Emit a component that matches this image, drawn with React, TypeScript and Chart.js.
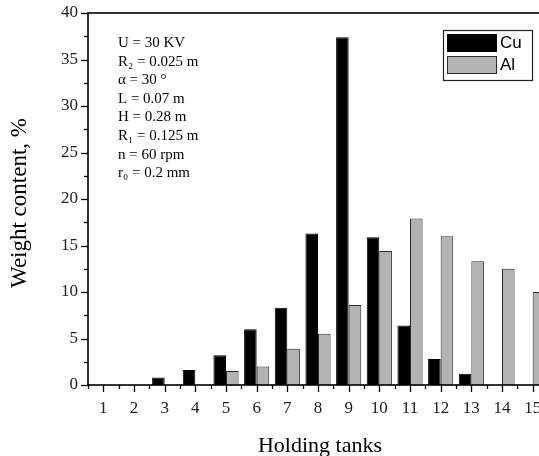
import React, { useEffect, useRef } from 'react';
import { Chart, registerables } from 'chart.js';

Chart.register(...registerables);

const tanks = ['1', '2', '3', '4', '5', '6', '7', '8', '9', '10', '11', '12', '13', '14', '15'];
const cuValues = [0, 0, 0.8, 1.6, 3.2, 6.0, 8.3, 16.3, 37.4, 15.9, 6.4, 2.8, 1.2, 0, 0];
const alValues = [0, 0, 0, 0, 1.5, 2.0, 3.9, 5.5, 8.6, 14.4, 17.9, 16.0, 13.3, 12.5, 10.0];
const yMin = 0;
const yMax = 40;
const yMajorStep = 5;
const yMinorStep = 2.5;
const annotationLines = [
  'U = 30 KV',
  'R\u2082 = 0.025 m',
  '\u03B1 = 30 \u00B0',
  'L = 0.07 m',
  'H = 0.28 m',
  'R\u2081 = 0.125 m',
  'n = 60 rpm',
  'r\u2080 = 0.2 mm',
];
const xTitle = 'Holding tanks';
const yTitle = 'Weight content, %';
const seriesNames = ['Cu', 'Al'];

const SERIF = '"Liberation Serif", "Times New Roman", serif';
const SANS = '"Liberation Sans", Arial, sans-serif';

const decorPlugin = {
  id: 'decor',
  afterDraw(chart: any) {
    const { ctx, chartArea: a, scales } = chart;
    const x = scales.x;
    const y = scales.y;
    ctx.save();
    ctx.strokeStyle = '#000';
    ctx.lineWidth = 1.6;
    ctx.strokeRect(a.left, a.top, a.right - a.left, a.bottom - a.top);

    ctx.lineWidth = 1.3;
    // y ticks
    for (let v = yMin; v <= yMax + 1e-6; v += yMinorStep) {
      const py = Math.round(y.getPixelForValue(v)) + 0.5;
      const len = Math.abs(v % yMajorStep) < 1e-6 ? 7 : 4;
      ctx.beginPath();
      ctx.moveTo(a.left - len, py);
      ctx.lineTo(a.left, py);
      ctx.stroke();
    }
    // x ticks
    for (let i = 0; i < tanks.length; i++) {
      const px = Math.round(x.getPixelForValue(i)) + 0.5;
      ctx.beginPath();
      ctx.moveTo(px, a.bottom);
      ctx.lineTo(px, a.bottom + 7);
      ctx.stroke();
    }
    for (let i = 0; i <= tanks.length; i++) {
      const px = Math.round(x.getPixelForValue(i - 0.5)) + 0.5;
      ctx.beginPath();
      ctx.moveTo(px, a.bottom);
      ctx.lineTo(px, a.bottom + 4);
      ctx.stroke();
    }

    // annotation
    ctx.fillStyle = '#000';
    ctx.font = `15px ${SERIF}`;
    ctx.textAlign = 'left';
    ctx.textBaseline = 'middle';
    annotationLines.forEach((t, i) => {
      ctx.fillText(t, a.left + 30, a.top + 30 + i * 18.6);
    });

    // legend
    const bx = a.right - 105;
    const by = a.top + 17;
    const bw = 89;
    const bh = 50;
    ctx.fillStyle = '#fff';
    ctx.fillRect(bx, by, bw, bh);
    ctx.strokeStyle = '#222';
    ctx.lineWidth = 1.2;
    ctx.strokeRect(bx + 0.5, by + 0.5, bw, bh);
    const dsets = chart.data.datasets;
    dsets.forEach((ds: any, i: number) => {
      const sy = by + 4 + i * 22;
      ctx.fillStyle = ds.backgroundColor;
      ctx.fillRect(bx + 4, sy, 50, 18);
      ctx.strokeStyle = ds.borderColor;
      ctx.lineWidth = 1;
      ctx.strokeRect(bx + 4.5, sy + 0.5, 49, 17);
      ctx.fillStyle = '#000';
      ctx.font = `17px ${SANS}`;
      ctx.textAlign = 'left';
      ctx.textBaseline = 'middle';
      ctx.fillText(ds.label, bx + 57, sy + 9);
    });

    // titles
    ctx.fillStyle = '#000';
    ctx.font = `22px ${SERIF}`;
    ctx.textAlign = 'center';
    ctx.textBaseline = 'alphabetic';
    ctx.fillText(xTitle, (a.left + a.right) / 2 + 2, a.bottom + 67);
    ctx.save();
    ctx.font = `23px ${SERIF}`;
    ctx.textBaseline = 'middle';
    ctx.translate(a.left - 68, (a.top + a.bottom) / 2 + 4);
    ctx.rotate(-Math.PI / 2);
    ctx.fillText(yTitle, 0, 0);
    ctx.restore();
    ctx.restore();
  },
};

export default function App() {
  const ref = useRef<HTMLCanvasElement | null>(null);
  useEffect(() => {
    if (!ref.current) return;
    const chart = new Chart(ref.current, {
      type: 'bar',
      data: {
        labels: tanks,
        datasets: [
          {
            label: seriesNames[0],
            data: cuValues,
            backgroundColor: '#000000',
            borderColor: '#000000',
            borderWidth: 1,
            barPercentage: 1,
            categoryPercentage: 0.82,
          },
          {
            label: seriesNames[1],
            data: alValues,
            backgroundColor: '#b3b3b3',
            borderColor: '#2a2a2a',
            borderWidth: 1,
            barPercentage: 1,
            categoryPercentage: 0.82,
          },
        ],
      },
      options: {
        responsive: false,
        animation: false,
        devicePixelRatio: 1,
        layout: { padding: { top: 13, right: 22, left: 0, bottom: 0 } },
        plugins: {
          legend: { display: false },
          tooltip: { enabled: false },
          title: { display: false },
        },
        scales: {
          x: {
            type: 'category',
            offset: true,
            grid: { display: false, drawTicks: false },
            border: { display: false },
            ticks: {
              color: '#222',
              font: { family: SERIF, size: 17 },
              padding: 13,
              maxRotation: 0,
              autoSkip: false,
            },
            afterFit: (s: any) => {
              s.height = 71;
              s.paddingLeft = 0;
              s.paddingRight = 0;
            },
          },
          y: {
            min: yMin,
            max: yMax,
            grid: { display: false, drawTicks: false },
            border: { display: false },
            ticks: {
              stepSize: yMajorStep,
              color: '#222',
              font: { family: SERIF, size: 17 },
              padding: 10,
            },
            afterFit: (s: any) => {
              s.width = 88;
              s.paddingTop = 0;
              s.paddingBottom = 0;
            },
          },
        },
      },
      plugins: [decorPlugin],
    });
    return () => chart.destroy();
  }, []);
  return (
    <div
      style={{
        position: 'fixed',
        left: 0,
        top: 0,
        width: 539,
        height: 456,
        overflow: 'hidden',
        background: '#fff',
      }}
    >
      <canvas ref={ref} width={570} height={456} style={{ display: 'block' }} />
    </div>
  );
}
